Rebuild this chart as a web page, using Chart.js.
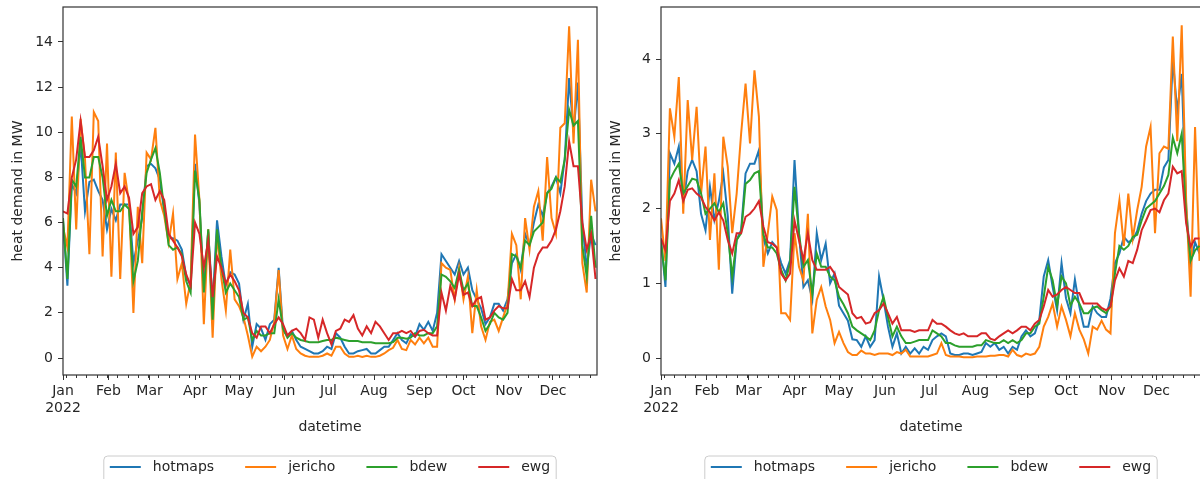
<!DOCTYPE html>
<html>
<head>
<meta charset="utf-8">
<script src="https://cdn.jsdelivr.net/npm/chart.js@4.4.1/dist/chart.umd.min.js"></script>
<style>
    html, body { margin: 0; padding: 0; background: #fff; overflow: hidden; width: 1200px; height: 479px; }
    #leftBox { position: absolute; left: 0; top: 0; }
    #rightBox { position: absolute; left: 598px; top: 0; }
</style>
</head>
<body>
<div id="leftBox"><canvas id="leftChart" width="600" height="479"></canvas></div>
<div id="rightBox"><canvas id="rightChart" width="604" height="479"></canvas></div>
<script>
// sample days (every 3rd day of 2022, day 0 = Jan 1)
const days = Array.from({ length: 122 }, (_, i) => i * 3);
const monthTicks = [0, 31, 59, 90, 120, 151, 181, 212, 243, 273, 304, 334];
const monthLabels = ['Jan', 'Feb', 'Mar', 'Apr', 'May', 'Jun', 'Jul', 'Aug', 'Sep', 'Oct', 'Nov', 'Dec'];
const yearLabel = '2022';
const seriesNames = ['hotmaps', 'jericho', 'bdew', 'ewg'];
const leftYTicks = [0, 2, 4, 6, 8, 10, 12, 14];
const rightYTicks = [0, 1, 2, 3, 4];

// left panel
const leftHotmaps = [
    6.1, 3.2, 7.7, 7.3, 9.5, 6.5, 7.8, 7.9, 7.4, 7.0,
    5.7, 6.6, 6.1, 6.8, 6.8, 6.8, 4.2, 5.2, 6.2, 8.5,
    8.6, 8.4, 7.9, 6.5, 5.3, 5.3, 5.2, 4.8, 3.6, 3.2,
    8.6, 6.8, 3.0, 5.6, 2.4, 6.1, 4.5, 3.2, 3.8, 3.7,
    3.3, 1.7, 2.4, 0.5, 1.5, 1.3, 0.8, 1.5, 1.7, 4.0,
    1.2, 1.0, 1.2, 0.8, 0.5, 0.4, 0.3, 0.2, 0.2, 0.3,
    0.5, 0.4, 1.1, 0.9, 0.5, 0.2, 0.2, 0.3, 0.35, 0.4,
    0.2, 0.2, 0.35, 0.5, 0.5, 0.8, 1.1, 0.8, 0.65, 1.05,
    0.95, 1.5, 1.25, 1.6, 1.2, 2.0, 4.6, 4.3, 4.0, 3.7,
    4.3, 3.7, 4.0, 3.0, 2.6, 2.2, 1.5, 1.8, 2.4, 2.4,
    2.1, 2.6, 4.2, 4.6, 3.9, 5.5, 5.0, 6.0, 6.8, 6.3,
    7.3, 7.6, 8.0, 7.3, 8.8, 12.4, 10.0, 12.2, 6.0, 4.0,
    5.5, 5.0
];
const leftJericho = [
    5.8, 4.9, 10.7, 5.7, 10.6, 8.8, 4.6, 10.9, 10.5, 4.5,
    9.5, 3.6, 9.1, 3.5, 8.2, 6.9, 2.0, 6.7, 4.2, 9.1,
    8.8, 10.2, 7.0, 6.3, 5.1, 6.4, 3.5, 4.2, 2.4, 3.4,
    9.9, 7.0, 1.5, 5.7, 0.9, 5.5, 3.5, 2.1, 4.8, 2.6,
    2.3, 1.8, 1.0, 0.06, 0.5, 0.3, 0.5, 0.8, 1.6, 3.9,
    1.0, 0.4, 1.0, 0.4, 0.2, 0.1, 0.05, 0.05, 0.05, 0.1,
    0.2, 0.1, 0.5, 0.5, 0.2, 0.05, 0.05, 0.1, 0.05, 0.1,
    0.05, 0.05, 0.1, 0.2, 0.35, 0.45, 0.8, 0.4, 0.35, 0.8,
    0.6, 0.9, 0.65, 0.9, 0.5, 0.5, 4.2, 4.0, 3.9, 2.6,
    4.0, 2.6, 3.6, 1.1, 3.0, 1.4, 0.8, 1.6, 1.7, 1.2,
    1.8, 2.4, 5.5, 5.0, 2.6, 6.2, 4.8, 6.7, 7.4, 5.2,
    8.9, 6.2, 5.5, 10.2, 10.4, 14.7, 9.5, 14.1, 4.2, 2.9,
    7.9, 6.5
];
const leftBdew = [
    6.2, 3.5, 7.9, 7.6, 9.8, 8.0, 8.0, 8.9, 8.9, 8.0,
    6.3, 7.0, 6.5, 6.5, 6.8, 6.6, 3.4, 4.3, 6.5, 8.2,
    8.8, 9.3, 8.2, 6.6, 5.0, 4.8, 4.9, 4.6, 3.4, 2.9,
    8.3, 7.0, 2.9, 5.7, 1.7, 5.7, 4.0, 2.9, 3.3, 3.0,
    2.7, 1.7, 1.8, 0.8, 1.2, 1.0, 1.0, 1.1, 1.1, 2.6,
    1.3, 0.9, 1.1, 0.9, 0.8, 0.75, 0.7, 0.7, 0.7, 0.75,
    0.8, 0.8, 0.9, 0.85, 0.8, 0.75, 0.75, 0.75, 0.7, 0.7,
    0.7, 0.65, 0.65, 0.65, 0.65, 0.7, 0.9, 0.9, 0.85, 0.9,
    1.1, 1.0, 1.0, 1.1, 1.1, 1.4, 3.7, 3.6, 3.4, 3.1,
    3.9, 3.0, 3.3, 2.3, 2.3, 1.8, 1.2, 1.5, 2.0, 1.8,
    1.7, 2.0, 4.6, 4.5, 4.0, 5.2, 5.0, 5.6, 5.8, 6.0,
    7.3, 7.5, 8.0, 7.8, 8.8, 11.0, 10.3, 10.5, 5.0, 3.6,
    6.3, 4.0
];
const leftEwg = [
    6.5, 6.4, 8.0, 8.8, 10.5, 8.9, 8.9, 9.2, 9.8, 8.5,
    7.0, 7.6, 8.6, 7.3, 7.6, 7.1, 5.5, 5.8, 7.3, 7.6,
    7.7, 7.0, 7.4, 7.0, 5.5, 5.2, 4.9, 4.5, 3.7, 3.2,
    6.0, 5.5, 4.0, 5.2, 2.7, 4.5, 4.0, 3.3, 3.7, 3.4,
    3.0, 2.0, 1.8, 1.1, 0.9, 1.4, 1.4, 1.1, 1.5, 1.8,
    1.5, 1.0, 1.2, 1.3, 1.1, 0.8, 1.8, 1.7, 0.9, 1.7,
    1.1, 0.6, 1.2, 1.3, 1.7, 1.6, 1.9, 1.3, 1.0, 1.4,
    1.1, 1.6, 1.4, 1.1, 0.8, 1.1, 1.1, 1.2, 1.1, 1.2,
    0.95, 1.2, 1.25, 1.1, 1.0, 1.0, 2.9, 2.1, 3.2, 2.6,
    3.7, 2.8, 2.9, 2.3, 2.6, 2.7, 1.7, 1.8, 2.1, 2.3,
    2.2, 2.2, 3.5, 3.0, 3.0, 3.4, 2.7, 4.0, 4.6, 4.9,
    4.9, 5.2, 5.7, 6.5, 7.6, 9.6, 8.5, 8.5, 6.0, 4.8,
    5.5, 3.5
];

// right panel
const rightHotmaps = [
    1.58, 0.95, 2.74, 2.6, 2.83, 2.07, 2.5, 2.65, 2.5, 1.93,
    1.71, 2.29, 1.85, 2.1, 2.47, 1.9, 0.86, 1.58, 1.71, 2.47,
    2.6, 2.6, 2.78, 1.6, 1.4, 1.55, 1.48, 1.27, 1.13, 1.31,
    2.65, 1.67, 0.95, 1.04, 0.78, 1.67, 1.31, 1.53, 1.0, 1.13,
    0.7, 0.6, 0.5, 0.25, 0.24, 0.15, 0.29, 0.15, 0.24, 1.09,
    0.78, 0.42, 0.15, 0.33, 0.06, 0.15, 0.06, 0.13, 0.06, 0.15,
    0.11, 0.24, 0.29, 0.33, 0.29, 0.06, 0.04, 0.04, 0.06, 0.06,
    0.04, 0.06, 0.08, 0.2, 0.15, 0.2, 0.11, 0.15, 0.06, 0.15,
    0.11, 0.29, 0.37, 0.29, 0.33, 0.51, 1.09, 1.31, 0.95, 0.64,
    1.27, 0.8, 0.6, 1.05, 0.69, 0.42, 0.42, 0.69, 0.6, 0.55,
    0.55, 0.8, 1.27, 1.4, 1.62, 1.55, 1.58, 1.7, 1.93, 2.1,
    2.2, 2.25, 2.25, 2.55, 2.65, 4.0, 3.3, 3.8, 2.02, 1.27,
    1.55, 1.4
];
const rightJericho = [
    1.87, 1.3, 3.34, 2.96, 3.76, 1.93, 3.45, 2.65, 3.36, 2.2,
    2.83, 1.58, 2.47, 1.18, 2.96, 2.56, 1.67, 2.2, 3.0, 3.67,
    2.87, 3.85, 3.23, 1.22, 1.67, 2.16, 1.98, 0.6, 0.6, 0.51,
    1.67, 1.22, 1.04, 1.93, 0.33, 0.78, 0.95, 0.69, 0.51, 0.2,
    0.35, 0.2, 0.08, 0.04, 0.04, 0.1, 0.06, 0.06, 0.04, 0.06,
    0.06, 0.06, 0.04, 0.08, 0.06, 0.11, 0.02, 0.02, 0.02, 0.02,
    0.02, 0.04, 0.06, 0.2, 0.04, 0.02, 0.02, 0.02, 0.01, 0.01,
    0.01, 0.02, 0.02, 0.02, 0.03, 0.03, 0.04, 0.04, 0.02, 0.11,
    0.04, 0.02, 0.06, 0.04, 0.06, 0.15, 0.42, 0.55, 0.73, 0.42,
    0.69, 0.51, 0.29, 0.6, 0.38, 0.25, 0.06, 0.42, 0.38, 0.5,
    0.38, 0.33, 1.67, 2.11, 1.5, 2.2, 1.6, 1.98, 2.29, 2.83,
    3.09, 1.67, 2.74, 2.83, 2.8, 4.3, 2.9, 4.45, 2.1, 0.82,
    3.09, 1.3
];
const rightBdew = [
    1.55, 1.04, 2.38, 2.5, 2.6, 2.2, 2.3, 2.4, 2.38, 2.2,
    1.93, 2.0, 2.07, 1.95, 2.07, 1.67, 1.09, 1.58, 1.67, 2.33,
    2.38, 2.47, 2.5, 1.65, 1.48, 1.48, 1.4, 1.18, 1.04, 1.27,
    2.29, 1.67, 1.22, 1.31, 0.86, 1.4, 1.22, 1.22, 1.09, 1.04,
    0.82, 0.72, 0.6, 0.42, 0.37, 0.33, 0.29, 0.24, 0.37, 0.64,
    0.82, 0.55, 0.29, 0.42, 0.29, 0.2, 0.2, 0.22, 0.24, 0.24,
    0.24, 0.37, 0.33, 0.29, 0.2, 0.2, 0.17, 0.15, 0.15, 0.15,
    0.15, 0.17, 0.17, 0.24, 0.22, 0.2, 0.2, 0.24, 0.2, 0.24,
    0.2, 0.24, 0.33, 0.33, 0.42, 0.46, 0.82, 1.22, 1.04, 0.7,
    1.09, 1.0, 0.7, 0.82, 0.73, 0.6, 0.6, 0.67, 0.69, 0.64,
    0.6, 0.69, 1.13, 1.5, 1.45, 1.5, 1.62, 1.65, 1.84, 2.0,
    2.05, 2.1, 2.2, 2.3, 2.45, 2.95, 2.74, 3.0, 1.9, 1.3,
    1.44, 1.5
];
const rightEwg = [
    1.6, 1.44, 2.1, 2.2, 2.38, 2.1, 2.25, 2.27, 2.2, 2.15,
    2.02, 1.95, 1.84, 1.95, 1.84, 1.58, 1.4, 1.67, 1.67, 1.89,
    1.93, 2.0, 2.1, 1.76, 1.55, 1.53, 1.48, 1.13, 1.04, 1.13,
    1.84, 1.58, 1.31, 1.67, 1.31, 1.18, 1.18, 1.18, 1.22, 1.13,
    0.95, 0.9, 0.85, 0.6, 0.53, 0.55, 0.46, 0.48, 0.6, 0.64,
    0.73, 0.6, 0.46, 0.55, 0.37, 0.37, 0.37, 0.35, 0.37, 0.37,
    0.37, 0.51, 0.46, 0.46, 0.42, 0.37, 0.33, 0.31, 0.33, 0.29,
    0.29, 0.29, 0.33, 0.33, 0.26, 0.24, 0.29, 0.33, 0.37, 0.33,
    0.37, 0.42, 0.42, 0.37, 0.46, 0.51, 0.69, 0.91, 0.82, 0.85,
    0.91, 0.95, 0.91, 0.87, 0.87, 0.73, 0.73, 0.73, 0.73, 0.67,
    0.64, 0.69, 1.04, 1.2, 1.09, 1.3, 1.27, 1.45, 1.71, 1.84,
    1.98, 2.0, 1.95, 2.11, 2.2, 2.56, 2.47, 2.5, 1.8, 1.49,
    1.6, 1.6
];

const lineColors = ['#1f77b4', '#ff7f0e', '#2ca02c', '#d62728'];
const FONT = '"DejaVu Sans", sans-serif';
const TEXT = '#262626';
const AXIS = '#333333';

Chart.defaults.font.family = FONT;
Chart.defaults.font.size = 14;
Chart.defaults.color = TEXT;

// axes frame and weekly minor ticks (Mondays), drawn over the lines like matplotlib spines
const framePlugin = {
    id: 'frame',
    afterDatasetsDraw(chart) {
        const { ctx, chartArea: a, scales } = chart;
        const x = scales.x;
        ctx.save();
        ctx.strokeStyle = AXIS;
        ctx.lineWidth = 1.2;
        ctx.strokeRect(a.left, a.top, a.right - a.left, a.bottom - a.top);
        ctx.beginPath();
        for (let d = 2; d <= 364; d += 7) {
            if (monthTicks.includes(d)) continue;
            const px = Math.round(x.getPixelForValue(d)) + 0.5;
            ctx.moveTo(px, a.bottom);
            ctx.lineTo(px, a.bottom + 3);
        }
        ctx.lineWidth = 1;
        ctx.stroke();
        ctx.restore();
    }
};

// matplotlib-like legend below the axes, centred under the plot area
const legendPlugin = {
    id: 'boxLegend',
    afterDraw(chart) {
        const { ctx, chartArea: a } = chart;
        const handle = 31, gap = 12, spacing = 31, pad = 6;
        const top = 456, h = 27, cy = 467;
        ctx.save();
        ctx.font = '14px ' + FONT;
        const sets = chart.data.datasets;
        const widths = sets.map(ds => ctx.measureText(ds.label).width);
        let total = pad * 2 + spacing * (sets.length - 1);
        widths.forEach(w => { total += handle + gap + w; });
        const left = (a.left + a.right) / 2 - total / 2;

        const r = 4;
        ctx.beginPath();
        ctx.moveTo(left + r, top);
        ctx.lineTo(left + total - r, top);
        ctx.arcTo(left + total, top, left + total, top + r, r);
        ctx.lineTo(left + total, top + h - r);
        ctx.arcTo(left + total, top + h, left + total - r, top + h, r);
        ctx.lineTo(left + r, top + h);
        ctx.arcTo(left, top + h, left, top + h - r, r);
        ctx.lineTo(left, top + r);
        ctx.arcTo(left, top, left + r, top, r);
        ctx.closePath();
        ctx.fillStyle = 'rgba(255,255,255,0.8)';
        ctx.fill();
        ctx.strokeStyle = '#cccccc';
        ctx.lineWidth = 1;
        ctx.stroke();

        let cx = left + pad;
        sets.forEach((ds, k) => {
            ctx.beginPath();
            ctx.moveTo(cx, cy);
            ctx.lineTo(cx + handle, cy);
            ctx.strokeStyle = ds.borderColor;
            ctx.lineWidth = 2;
            ctx.stroke();
            ctx.fillStyle = TEXT;
            ctx.textBaseline = 'middle';
            ctx.textAlign = 'left';
            ctx.fillText(ds.label, cx + handle + gap, cy);
            cx += handle + gap + widths[k] + spacing;
        });
        ctx.restore();
    }
};

function makeChart(canvasId, series, yMin, yMax, yTicks, rightPad) {
    return new Chart(document.getElementById(canvasId), {
        type: 'line',
        data: {
            labels: days,
            datasets: seriesNames.map((name, k) => ({
                label: name,
                data: series[k],
                borderColor: lineColors[k],
                backgroundColor: lineColors[k],
                borderWidth: 2,
                pointRadius: 0,
                tension: 0,
                fill: false,
                order: seriesNames.length - k
            }))
        },
        options: {
            responsive: false,
            animation: false,
            devicePixelRatio: 1,
            layout: { padding: { top: 7, right: rightPad, bottom: 0, left: 0 } },
            plugins: {
                legend: { display: false },
                tooltip: { enabled: false }
            },
            scales: {
                x: {
                    type: 'linear',
                    min: 0,
                    max: 364,
                    border: { display: false },
                    grid: { drawOnChartArea: false, drawTicks: true, tickLength: 5, tickColor: AXIS, tickWidth: 1 },
                    afterBuildTicks: scale => { scale.ticks = monthTicks.map(v => ({ value: v })); },
                    afterFit: scale => { scale.height = 104; scale.paddingLeft = 0; scale.paddingRight = 0; },
                    ticks: {
                        autoSkip: false,
                        maxRotation: 0,
                        padding: 3,
                        color: TEXT,
                        callback: value => {
                            const idx = monthTicks.indexOf(value);
                            return idx === 0 ? [monthLabels[0], yearLabel] : monthLabels[idx];
                        }
                    },
                    title: { display: true, text: 'datetime', color: TEXT, padding: { top: 0, bottom: 43 } }
                },
                y: {
                    min: yMin,
                    max: yMax,
                    border: { display: false },
                    grid: { drawOnChartArea: false, drawTicks: true, tickLength: 5, tickColor: AXIS, tickWidth: 1 },
                    afterBuildTicks: scale => { scale.ticks = yTicks.map(v => ({ value: v })); },
                    afterFit: scale => { scale.width = 63; scale.paddingTop = 0; scale.paddingBottom = 0; },
                    ticks: { padding: 5, color: TEXT },
                    title: { display: true, text: 'heat demand in MW', color: TEXT, padding: { top: 10, bottom: 0 } }
                }
            }
        },
        plugins: [framePlugin, legendPlugin]
    });
}

makeChart('leftChart', [leftHotmaps, leftJericho, leftBdew, leftEwg], -0.753, 15.55, leftYTicks, 3);
makeChart('rightChart', [rightHotmaps, rightJericho, rightBdew, rightEwg], -0.227, 4.696, rightYTicks, 1);
</script>
</body>
</html>
